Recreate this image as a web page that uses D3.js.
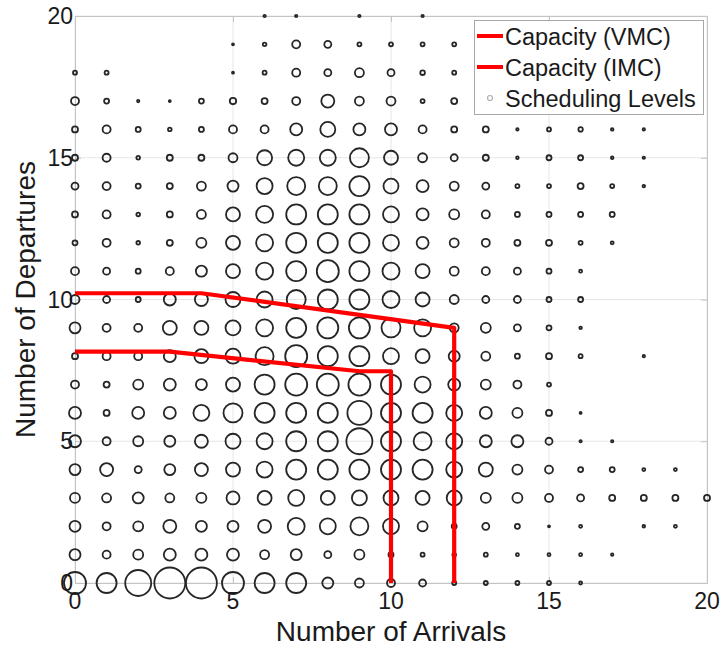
<!DOCTYPE html>
<html>
<head>
<meta charset="utf-8">
<script src="https://cdn.jsdelivr.net/npm/d3@7"></script>
<style>
  html, body { margin: 0; padding: 0; background: #fff; }
  svg { display: block; font-family: "Liberation Sans", Arial, Helvetica, sans-serif; }
</style>
</head>
<body>
<svg id="chart" width="720" height="647"></svg>
<script>
// Grid of arrival / departure counts
const arrivals   = [0,1,2,3,4,5,6,7,8,9,10,11,12,13,14,15,16,17,18,19,20];
const departures = [0,1,2,3,4,5,6,7,8,9,10,11,12,13,14,15,16,17,18,19,20];

// Scheduling level at each (arrivals, departures) cell, one array per departure count,
// indexed by arrivals 0..20 (0 = no occurrence)
const dep20 = [0,0,0,0,0,0,1.2,1.2,0,1.2,0,1.2,0,0,0,0,0,0,0,0,0];
const dep19 = [0,0,0,0,0,1,1.8,4,3.5,2,2,2,2,0,0,0,0,0,0,0,0];
const dep18 = [2,2,0,0,0,1,2,4,3.5,4.5,3.5,2.3,2,0,0,0,0,0,0,0,0];
const dep17 = [4,2.5,1.2,1,2.5,3.2,3,4,6.5,4.5,4.5,2,3,0,0,0,0,0,0,0,0];
const dep16 = [3,4,2.5,1.8,2.5,4,4,6,7.5,6,6,4,3,3,1.2,2,2.2,1.3,1.2,0,0];
const dep15 = [3,4,1.8,3,3,4.5,7.5,8,8,9.5,7,4.5,3.5,3,1.3,2.5,2.5,1.3,1.2,0,0];
const dep14 = [3.5,4,2.5,3,4.5,5.5,8,9,9,10,7.5,6,4.5,3.5,2,2,3,2,1.3,0,0];
const dep13 = [3,4,1.8,3,4.5,7,8.5,10,10,10,8,6,5,4,2.5,2.5,2.5,2.5,0,0,0];
const dep12 = [2.5,4,1.8,3,5,7,8.5,10,10,10,8,6,4.5,4,3,3,2,1.5,0,0,0];
const dep11 = [4,3.5,2.5,4,5.5,7,8.5,10,11,10,8.5,7,4.5,4,3.5,2.5,1.5,0,0,0,0];
const dep10 = [4.5,3.5,2.5,6,6.5,7.5,8,9.5,10,10,8.5,7,4.5,3.5,3.5,2.5,2.5,0,0,0,0];
const dep9  = [5.5,4,4,7,7,7.5,8.5,10,10.5,10.5,9.5,8.5,4.5,5,3.5,2.5,1.3,0,0,0,0];
const dep8  = [3,4,4,6,7,7.5,9,11,10,10,8,7,5.5,4.5,2.5,3,2,0,1.2,0,0];
const dep7  = [4,3,5,6,5.5,7,10,11,11,11,10,8,6,5,4,2,0,0,0,0,0];
const dep6  = [6,3,6,6,8,9.5,10,10,10,12,10,10,8,6,5,3,1,0,0,0,0];
const dep5  = [6,4,5,5.5,6.5,7.5,8,10,10,13,10,9,8,6,6,3.5,1.2,1.2,0,0,0];
const dep4  = [5.5,6.5,3.5,5.5,6.5,7,8,10,10,10,10,10,8,7,5,4,2.5,2.5,1.5,1.5,0];
const dep3  = [5,4.5,5.5,4.5,5,6.5,7,8,7,7.5,7.5,7,7.5,5,5,4,3.5,3,3,3,3];
const dep2  = [5.5,4,5,6.5,5.5,5.5,6.5,8.5,8,9,8,5,2.5,3.5,2.5,1,1.5,0,1.3,1.5,0];
const dep1  = [5.5,4,5,6,6,6,4.5,5.5,3.5,5,2.5,2,1.8,2,1.5,1.5,1.5,1.2,0,0,0];
const dep0  = [11,10,13,15.5,15.5,11,10,10,5.5,4.5,4,3.5,2,2,2,2,1.5,0,0,0,0];

const levelRows = [dep0,dep1,dep2,dep3,dep4,dep5,dep6,dep7,dep8,dep9,dep10,
                   dep11,dep12,dep13,dep14,dep15,dep16,dep17,dep18,dep19,dep20];

// Capacity envelopes
const vmcArrivals   = [0, 4, 12, 12];
const vmcDepartures = [10.22, 10.22, 9.0, 0];
const imcArrivals   = [0, 3, 9, 10, 10];
const imcDepartures = [8.16, 8.16, 7.47, 7.47, 0];

const tickValues = [0, 5, 10, 15, 20];
const legendLabels = ["Capacity (VMC)", "Capacity (IMC)", "Scheduling Levels"];

const svg = d3.select("#chart");
const plotL = 75, plotR = 707, plotT = 16, plotB = 583;

const x = d3.scaleLinear().domain([0, 20]).range([plotL, plotR]);
const y = d3.scaleLinear().domain([0, 20]).range([plotB, plotT]);
const r = d3.scaleLinear().domain([0, 16]).range([0, 16]);

// grid lines
const grid = svg.append("g");
grid.selectAll(".gx").data(tickValues).join("line")
  .attr("x1", d => x(d)).attr("x2", d => x(d))
  .attr("y1", plotT).attr("y2", plotB)
  .attr("stroke", "#e6e6e6").attr("stroke-width", 1);
grid.selectAll(".gy").data(tickValues).join("line")
  .attr("y1", d => y(d)).attr("y2", d => y(d))
  .attr("x1", plotL).attr("x2", plotR)
  .attr("stroke", "#e6e6e6").attr("stroke-width", 1);

// axis box (light gray frame with inward ticks)
const axisColor = "#c4c4c4";
const xAxisB = d3.axisBottom(x).tickValues(tickValues).tickSize(-6).tickFormat("");
const xAxisT = d3.axisTop(x).tickValues(tickValues).tickSize(-6).tickFormat("");
const yAxisL = d3.axisLeft(y).tickValues(tickValues).tickSize(-6).tickFormat("");
const yAxisR = d3.axisRight(y).tickValues(tickValues).tickSize(-6).tickFormat("");
const axes = [
  svg.append("g").attr("transform", `translate(0,${plotB})`).call(xAxisB),
  svg.append("g").attr("transform", `translate(0,${plotT})`).call(xAxisT),
  svg.append("g").attr("transform", `translate(${plotL},0)`).call(yAxisL),
  svg.append("g").attr("transform", `translate(${plotR},0)`).call(yAxisR)
];
axes.forEach(g => {
  g.selectAll("path, line").attr("stroke", axisColor);
});

// bubbles
const cells = [];
levelRows.forEach((row, j) => {
  row.forEach((v, i) => {
    if (v > 0) cells.push({ a: arrivals[i], d: departures[j], v });
  });
});
svg.append("g").selectAll("circle").data(cells).join("circle")
  .attr("cx", d => x(d.a))
  .attr("cy", d => y(d.d))
  .attr("r", d => r(d.v))
  .attr("fill", "none")
  .attr("stroke", "#262626")
  .attr("stroke-width", 1.8);

// capacity lines
const line = d3.line().x(d => x(d[0])).y(d => y(d[1]));
svg.append("path")
  .datum(vmcArrivals.map((a, i) => [a, vmcDepartures[i]]))
  .attr("d", line).attr("fill", "none")
  .attr("stroke", "#ff0000").attr("stroke-width", 4.2).attr("stroke-linejoin", "round");
svg.append("path")
  .datum(imcArrivals.map((a, i) => [a, imcDepartures[i]]))
  .attr("d", line).attr("fill", "none")
  .attr("stroke", "#ff0000").attr("stroke-width", 4.2).attr("stroke-linejoin", "round");

// tick labels
const tickFont = 23;
svg.append("g").selectAll("text").data(tickValues).join("text")
  .attr("x", d => x(d)).attr("y", plotB + 26)
  .attr("text-anchor", "middle")
  .attr("font-size", tickFont).attr("fill", "#1a1a1a")
  .text(d => d);
svg.append("g").selectAll("text").data(tickValues).join("text")
  .attr("x", plotL - 2).attr("y", d => y(d) + 8)
  .attr("text-anchor", "end")
  .attr("font-size", tickFont).attr("fill", "#1a1a1a")
  .text(d => d);

// axis titles
svg.append("text")
  .attr("x", (plotL + plotR) / 2).attr("y", 641)
  .attr("text-anchor", "middle")
  .attr("font-size", 28).attr("fill", "#1a1a1a")
  .text("Number of Arrivals");
svg.append("text")
  .attr("transform", `translate(35,${(plotT + plotB) / 2}) rotate(-90)`)
  .attr("text-anchor", "middle")
  .attr("font-size", 28).attr("fill", "#1a1a1a")
  .text("Number of Departures");

// legend
const lg = svg.append("g");
lg.append("rect")
  .attr("x", 474.5).attr("y", 20.5).attr("width", 229).attr("height", 94)
  .attr("fill", "#fff").attr("stroke", "#a8a8a8").attr("stroke-width", 1);
const rowY = [36, 67, 98];
lg.selectAll(".ll").data([0, 1]).join("line")
  .attr("x1", 477).attr("x2", 503)
  .attr("y1", d => rowY[d]).attr("y2", d => rowY[d])
  .attr("stroke", "#ff0000").attr("stroke-width", 4);
lg.append("circle")
  .attr("cx", 490).attr("cy", rowY[2]).attr("r", 2.5)
  .attr("fill", "none").attr("stroke", "#b0b0b0").attr("stroke-width", 1.2);
lg.selectAll("text").data(legendLabels).join("text")
  .attr("x", 505).attr("y", (d, i) => rowY[i] + 8.5)
  .attr("font-size", 23.5).attr("fill", "#1a1a1a")
  .text(d => d);
</script>
</body>
</html>
